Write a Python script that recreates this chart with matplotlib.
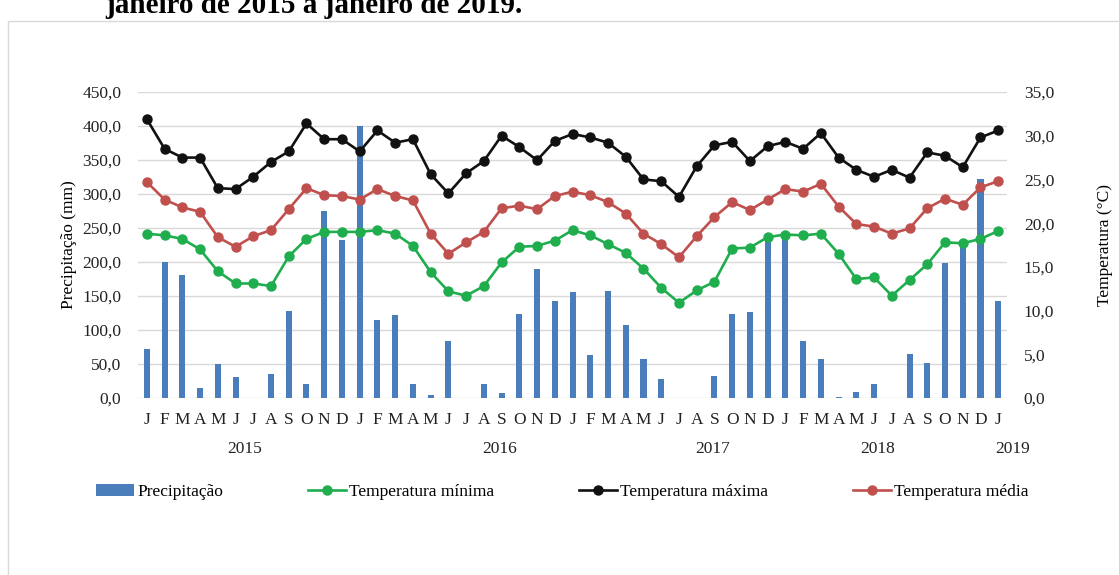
import numpy as np
import matplotlib.pyplot as plt
from matplotlib.patches import Rectangle

plt.rcParams['font.family'] = ['Liberation Serif', 'DejaVu Serif']

# meses de janeiro/2015 a janeiro/2019
meses = ['J', 'F', 'M', 'A', 'M', 'J', 'J', 'A', 'S', 'O', 'N', 'D'] * 4 + ['J']
anos = ['2015', '2016', '2017', '2018', '2019']
anos_pos = [5.5, 19.9, 31.9, 41.2, 48.8]

precipitacao = [72, 200, 181, 15, 50, 31, 0, 36, 128, 21, 275, 232,
                400, 115, 122, 21, 4, 84, 0, 21, 8, 124, 190, 143,
                156, 63, 158, 108, 57, 28, 0, 0, 32, 124, 126, 237,
                240, 84, 58, 1.5, 9, 20, 0, 64, 52, 199, 228, 322,
                142]
t_min = [18.8, 18.6, 18.2, 17.0, 14.5, 13.1, 13.1, 12.8, 16.2, 18.2, 19.0, 19.0,
         19.0, 19.2, 18.8, 17.4, 14.4, 12.2, 11.7, 12.8, 15.5, 17.3, 17.4, 18.0,
         19.2, 18.6, 17.6, 16.6, 14.8, 12.6, 10.9, 12.3, 13.3, 17.1, 17.2, 18.4,
         18.7, 18.6, 18.8, 16.5, 13.6, 13.8, 11.7, 13.5, 15.3, 17.8, 17.7, 18.2,
         19.1]
t_max = [31.9, 28.5, 27.5, 27.5, 24.0, 23.9, 25.3, 27.0, 28.2, 31.4, 29.6, 29.6,
         28.2, 30.6, 29.2, 29.6, 25.6, 23.4, 25.7, 27.1, 30.0, 28.7, 27.2, 29.4,
         30.2, 29.8, 29.2, 27.6, 25.0, 24.8, 23.0, 26.5, 28.9, 29.3, 27.1, 28.8,
         29.3, 28.5, 30.3, 27.5, 26.1, 25.3, 26.1, 25.2, 28.1, 27.7, 26.4, 29.8,
         30.6]
t_med = [24.7, 22.7, 21.8, 21.3, 18.4, 17.3, 18.5, 19.2, 21.6, 24.0, 23.2, 23.1,
         22.7, 23.9, 23.1, 22.6, 18.8, 16.5, 17.8, 19.0, 21.7, 22.0, 21.6, 23.1,
         23.6, 23.2, 22.4, 21.1, 18.8, 17.6, 16.1, 18.5, 20.7, 22.4, 21.5, 22.7,
         23.9, 23.6, 24.5, 21.9, 19.9, 19.6, 18.8, 19.4, 21.7, 22.8, 22.1, 24.1,
         24.8]

x = np.arange(len(meses))

fig = plt.figure(figsize=(11.19, 5.75), dpi=100)
ax = fig.add_axes([0.1233, 0.3078, 0.7767, 0.5322])
ax2 = ax.twinx()

# barras de precipitacao
ax.bar(x, precipitacao, width=0.34, color='#4A7EBB', label='Precipitação', zorder=2)
ax.set_ylim(0, 450)
ax.set_yticks(np.arange(0, 451, 50))
ax.set_yticklabels([f'{v:.1f}'.replace('.', ',') for v in np.arange(0, 451, 50)])
ax.yaxis.grid(True, color='#D9D9D9', lw=1, zorder=0)
ax.set_axisbelow(True)
ax.set_xlim(-0.5, len(meses) - 0.5)
ax.set_xticks(x)
ax.set_xticklabels(meses)
ax.set_ylabel('Precipitação (mm)', fontsize=12.5, labelpad=4)

# temperaturas
lw = 1.9
ms = 6.5
ax2.plot(x, t_min, '-o', color='#1FAD4E', lw=lw, ms=ms, label='Temperatura mínima')
ax2.plot(x, t_max, '-o', color='#111111', lw=lw, ms=ms, label='Temperatura máxima')
ax2.plot(x, t_med, '-o', color='#C0504D', lw=lw, ms=ms, label='Temperatura média')
ax2.set_ylim(0, 35)
ax2.set_yticks(np.arange(0, 36, 5))
ax2.set_yticklabels([f'{v:.1f}'.replace('.', ',') for v in np.arange(0, 36, 5)])
ax2.set_ylabel('Temperatura (°C)', fontsize=12.5, labelpad=31)

for a in (ax, ax2):
    for s in a.spines.values():
        s.set_visible(False)
    a.tick_params(length=0, labelsize=12.5, colors='#222222')
ax.tick_params(axis='x', pad=10)
ax.tick_params(axis='y', pad=12)
ax2.tick_params(axis='y', pad=12)

# anos abaixo dos meses
for ano, pos in zip(anos, anos_pos):
    ax.text(pos, -0.165, ano, transform=ax.get_xaxis_transform(),
            ha='center', va='center', fontsize=12.5, color='#222222')

# legenda
h1, l1 = ax.get_legend_handles_labels()
h2, l2 = ax2.get_legend_handles_labels()
fig.legend(h1 + h2, l1 + l2, loc='center left', bbox_to_anchor=(0.072, 0.144),
           ncol=4, frameon=False, fontsize=12.5, handlelength=2.2,
           handletextpad=0.15, columnspacing=4.9)

# titulo cortado e moldura
fig.text(0.094, 1 - 13 / 575, 'janeiro de 2015 a janeiro de 2019.', fontsize=21,
         fontweight='bold', va='baseline', ha='left')
fig.patches.append(Rectangle((8 / 1119, -0.05), 1.1, 1 - 21 / 575 + 0.05,
                             transform=fig.transFigure, fill=False,
                             ec='#D9D9D9', lw=1))

fig.savefig('out.png', dpi=100)
